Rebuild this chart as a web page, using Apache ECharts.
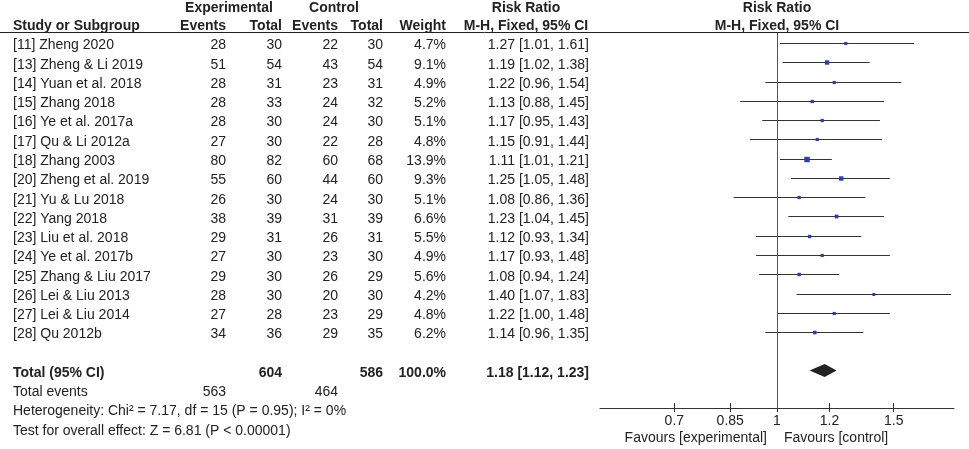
<!DOCTYPE html>
<html>
<head>
<meta charset="utf-8">
<title>Forest plot</title>
<script src="https://cdn.jsdelivr.net/npm/echarts@6/dist/echarts.min.js"></script>
<style>
html, body { margin: 0; padding: 0; background: #fff; }
#forest { width: 969px; height: 449px; }
</style>
</head>
<body>
<div id="forest"></div>
<script>
"use strict";

/*****Data start*****/
var studies = ['[11] Zheng 2020', '[13] Zheng & Li 2019', '[14] Yuan et al. 2018', '[15] Zhang 2018',
	'[16] Ye et al. 2017a', '[17] Qu & Li 2012a', '[18] Zhang 2003', '[20] Zheng et al. 2019',
	'[21] Yu & Lu 2018', '[22] Yang 2018', '[23] Liu et al. 2018', '[24] Ye et al. 2017b',
	'[25] Zhang & Liu 2017', '[26] Lei & Liu 2013', '[27] Lei & Liu 2014', '[28] Qu 2012b'];
var expEvents = [28, 51, 28, 28, 28, 27, 80, 55, 26, 38, 29, 27, 29, 28, 27, 34];
var expTotal  = [30, 54, 31, 33, 30, 30, 82, 60, 30, 39, 31, 30, 30, 30, 28, 36];
var ctlEvents = [22, 43, 23, 24, 24, 22, 60, 44, 24, 31, 26, 23, 26, 20, 23, 29];
var ctlTotal  = [30, 54, 31, 32, 30, 28, 68, 60, 30, 39, 31, 30, 29, 30, 29, 35];
var weights   = [4.7, 9.1, 4.9, 5.2, 5.1, 4.8, 13.9, 9.3, 5.1, 6.6, 5.5, 4.9, 5.6, 4.2, 4.8, 6.2];
var riskRatio = [1.27, 1.19, 1.22, 1.13, 1.17, 1.15, 1.11, 1.25, 1.08, 1.23, 1.12, 1.17, 1.08, 1.40, 1.22, 1.14];
var ciLow     = [1.01, 1.02, 0.96, 0.88, 0.95, 0.91, 1.01, 1.05, 0.86, 1.04, 0.93, 0.93, 0.94, 1.07, 1.00, 0.96];
var ciHigh    = [1.61, 1.38, 1.54, 1.45, 1.43, 1.44, 1.21, 1.48, 1.36, 1.45, 1.34, 1.48, 1.24, 1.83, 1.48, 1.35];

var totalExp = 604, totalCtl = 586, totalWeight = 100.0;
var totalEventsExp = 563, totalEventsCtl = 464;
var pooled = [1.18, 1.12, 1.23]; // RR, low, high

var footNotes = ['Heterogeneity: Chi\u00b2 = 7.17, df = 15 (P = 0.95); I\u00b2 = 0%',
	'Test for overall effect: Z = 6.81 (P < 0.00001)'];
var axisTicks = [0.7, 0.85, 1, 1.2, 1.5];
/*****Data end*****/

var FONT = 'Liberation Sans, Arial, sans-serif';
var TXT = '#222';
var rowTotal = 17, rowEvents = 18, rowFoot = 19;

function rrText(r, l, h) {
	return r.toFixed(2) + ' [' + l.toFixed(2) + ', ' + h.toFixed(2) + ']';
}

/* table cells, one entry per row */
var colX = [13, 226, 282, 338, 383, 446, 589];
var colAlign = ['left', 'right', 'right', 'right', 'right', 'right', 'right'];
var tableRows = [];
studies.forEach(function (s, i) {
	tableRows.push({ row: i, bold: false, cells: [s, expEvents[i], expTotal[i], ctlEvents[i], ctlTotal[i],
		weights[i].toFixed(1) + '%', rrText(riskRatio[i], ciLow[i], ciHigh[i])] });
});
tableRows.push({ row: rowTotal, bold: true, cells: ['Total (95% CI)', '', totalExp, '', totalCtl,
	totalWeight.toFixed(1) + '%', rrText(pooled[0], pooled[1], pooled[2])] });
tableRows.push({ row: rowEvents, bold: false, cells: ['Total events', totalEventsExp, '', totalEventsCtl, '', '', ''] });
footNotes.forEach(function (t, k) {
	tableRows.push({ row: rowFoot + k, bold: false, cells: [t, '', '', '', '', '', ''] });
});

function tableItem(params, api) {
	var r = tableRows[params.dataIndex];
	var kids = [];
	r.cells.forEach(function (c, k) {
		if (c === '') return;
		var p = api.coord([colX[k], api.value(1)]);
		kids.push({
			type: 'text',
			style: {
				x: p[0], y: p[1] + 2.5, text: String(c), fill: TXT,
				font: (r.bold ? 'bold ' : '') + '14px ' + FONT,
				textAlign: colAlign[k], textVerticalAlign: 'middle'
			}
		});
	});
	return { type: 'group', children: kids };
}

function studyItem(params, api) {
	var y = api.value(1);
	var p = api.coord([api.value(0), y]);
	var a = api.coord([api.value(2), y]);
	var b = api.coord([api.value(3), y]);
	var s = 1.45 * Math.sqrt(api.value(4));
	var yy = Math.round(p[1]) + 0.5;
	return { type: 'group', children: [
		{ type: 'line', shape: { x1: a[0], y1: yy, x2: b[0], y2: yy }, style: { stroke: '#333', lineWidth: 1 } },
		{ type: 'rect', shape: { x: p[0] - s / 2, y: yy - s / 2, width: s, height: s }, style: { fill: '#2e3ea6' } }
	] };
}

function diamondItem(params, api) {
	var y = api.value(1);
	var c = api.coord([api.value(0), y]);
	var a = api.coord([api.value(2), y]);
	var b = api.coord([api.value(3), y]);
	return { type: 'polygon', shape: { points: [[a[0], c[1]], [c[0], c[1] - 6.5], [b[0], c[1]], [c[0], c[1] + 6.5]] },
		style: { fill: '#222' } };
}

function hdr(text, x, y, align, bold) {
	return { type: 'text', x: x, y: y, silent: true,
		style: { text: text, fill: TXT, font: (bold ? 'bold ' : '') + '14px ' + FONT,
			textAlign: align, textVerticalAlign: 'middle' } };
}

var logTicks = axisTicks.map(Math.log);

var chart = echarts.init(document.getElementById('forest'));
var option = {
	animation: false,
	grid: [
		{ left: 600, top: 33, width: 354, height: 375 },
		{ left: 0, top: 0, right: 0, bottom: 0 }
	],
	xAxis: [
		{
			gridIndex: 0, type: 'value', min: -0.615, max: 0.615, position: 'bottom',
			axisLine: { show: true, onZero: false, lineStyle: { color: '#333', width: 1 } },
			axisTick: { show: true, length: 4, customValues: logTicks, lineStyle: { color: '#333' } },
			axisLabel: {
				customValues: logTicks, margin: 6, color: TXT, fontSize: 14, fontFamily: FONT,
				formatter: function (v) { return String(+Math.exp(v).toFixed(2)); }
			},
			splitLine: { show: false }
		},
		{
			// upper half of the crossing ticks: a top axis moved down onto the bottom line
			gridIndex: 0, type: 'value', min: -0.615, max: 0.615, position: 'top', offset: -375,
			axisLine: { show: false, onZero: false },
			axisTick: { show: true, inside: false, length: 5, customValues: logTicks, lineStyle: { color: '#333' } },
			axisLabel: { show: false },
			splitLine: { show: false }
		},
		{ gridIndex: 1, type: 'value', min: 0, max: 969, show: false }
	],
	yAxis: [
		{ gridIndex: 0, type: 'value', inverse: true, min: -0.519, max: 18.94, show: false },
		{ gridIndex: 1, type: 'value', inverse: true, min: -2.2314, max: 21.069, show: false }
	],
	graphic: [
		{ type: 'line', silent: true, shape: { x1: 0, y1: 32.5, x2: 969, y2: 32.5 }, style: { stroke: '#222', lineWidth: 1 } },
		hdr('Study or Subgroup', 13, 26, 'left', true),
		hdr('Experimental', 229, 8, 'center', true),
		hdr('Events', 226, 26, 'right', true),
		hdr('Total', 282, 26, 'right', true),
		hdr('Control', 334, 8, 'center', true),
		hdr('Events', 338, 26, 'right', true),
		hdr('Total', 383, 26, 'right', true),
		hdr('Weight', 446, 26, 'right', true),
		hdr('Risk Ratio', 526, 8, 'center', true),
		hdr('M-H, Fixed, 95% CI', 526, 26, 'center', true),
		hdr('Risk Ratio', 777, 8, 'center', true),
		hdr('M-H, Fixed, 95% CI', 777, 26, 'center', true),
		hdr('Favours [experimental]', 767, 438, 'right', false),
		hdr('Favours [control]', 784, 438, 'left', false)
	],
	series: [
		{
			type: 'custom', name: 'studies', xAxisIndex: 0, yAxisIndex: 0,
			renderItem: studyItem,
			encode: { x: [0, 2, 3], y: 1 },
			data: studies.map(function (s, i) {
				return [Math.log(riskRatio[i]), i, Math.log(ciLow[i]), Math.log(ciHigh[i]), weights[i]];
			}),
			markLine: {
				silent: true, symbol: 'none', label: { show: false },
				lineStyle: { color: '#555', type: 'solid', width: 1 },
				data: [{ xAxis: 0 }]
			}
		},
		{
			type: 'custom', name: 'total', xAxisIndex: 0, yAxisIndex: 0,
			renderItem: diamondItem,
			encode: { x: [0, 2, 3], y: 1 },
			data: [[Math.log(pooled[0]), rowTotal, Math.log(pooled[1]), Math.log(pooled[2])]]
		},
		{
			type: 'custom', name: 'table', xAxisIndex: 2, yAxisIndex: 1,
			renderItem: tableItem, clip: false,
			data: tableRows.map(function (r) { return [0, r.row]; })
		}
	]
};
chart.setOption(option);
</script>
</body>
</html>
